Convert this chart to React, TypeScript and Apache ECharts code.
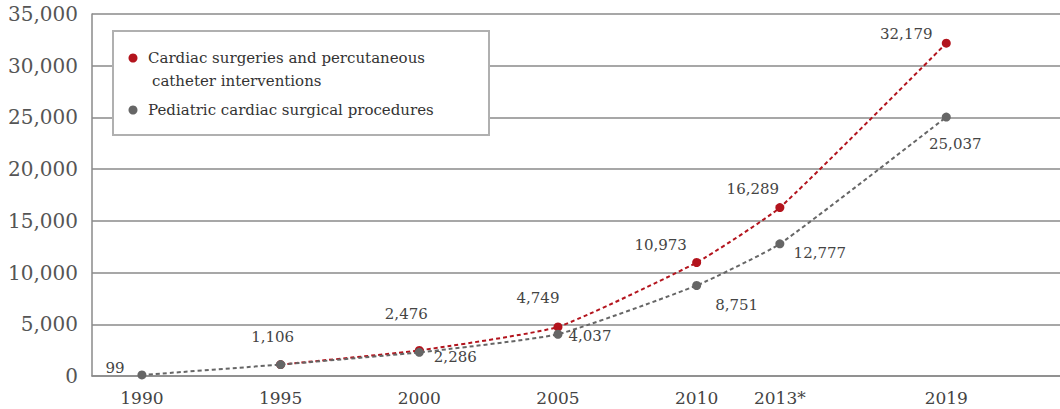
import React, { useEffect, useRef } from "react";
import * as echarts from "echarts";

// Years on the horizontal axis and the labels printed under them
const years = [1990, 1995, 2000, 2005, 2010, 2013, 2019];
const yearLabels = ["1990", "1995", "2000", "2005", "2010", "2013*", "2019"];

// Series names
const seriesNames = [
  "Cardiac surgeries and percutaneous\ncatheter interventions",
  "Pediatric cardiac surgical procedures",
];

// Values per year (null = not reported)
const cardiacValues: (number | null)[] = [null, 1106, 2476, 4749, 10973, 16289, 32179];
const pediatricValues: (number | null)[] = [99, 1106, 2286, 4037, 8751, 12777, 25037];
// Which pediatric points carry a value label
const pediatricLabelShown = [true, false, true, true, true, true, true];

// Value axis ticks
const yMax = 35000;
const yStep = 5000;

// Label placement relative to each marker
const cardiacLabelOffsets = [
  [0, 0],
  [-8, -28],
  [-13, -36],
  [-20, -29],
  [-36, -18],
  [-27, -19],
  [-40, -9],
];
const pediatricLabelOffsets = [
  [-27, -7],
  [0, 0],
  [36, 5],
  [32, 2],
  [40, 20],
  [40, 9],
  [9, 27],
];

const RED = "#b3141d";
const GREY = "#666666";
const FONT = "DejaVu Serif";

const fmt = (v: number) => v.toLocaleString("en-US");

function buildData(values: (number | null)[], offsets: number[][], shown?: boolean[]) {
  const out: any[] = [];
  values.forEach((v, i) => {
    if (v === null) return;
    out.push({
      value: [years[i], v],
      label: {
        show: shown ? shown[i] : true,
        offset: offsets[i],
      },
    });
  });
  return out;
}

export default function App() {
  const ref = useRef<HTMLDivElement>(null);

  useEffect(() => {
    if (!ref.current) return;
    const chart = echarts.init(ref.current, undefined, { renderer: "svg" });

    const lx = 113;
    const ly = 31;
    const legendFont = `15px "${FONT}"`;
    const legendGraphic: any[] = [
      {
        type: "rect",
        shape: { x: lx, y: ly, width: 376, height: 104 },
        style: { fill: "#ffffff", stroke: "#b0b0b0", lineWidth: 2 },
        z: 10,
      },
      {
        type: "circle",
        shape: { cx: lx + 20, cy: ly + 27, r: 4.5 },
        style: { fill: RED },
        z: 11,
      },
      {
        type: "text",
        x: lx + 35,
        y: ly + 27,
        style: {
          text: seriesNames[0].split("\n")[0],
          font: legendFont,
          fill: "#333",
          verticalAlign: "middle",
        },
        z: 11,
      },
      {
        type: "text",
        x: lx + 39,
        y: ly + 50,
        style: {
          text: seriesNames[0].split("\n")[1],
          font: legendFont,
          fill: "#333",
          verticalAlign: "middle",
        },
        z: 11,
      },
      {
        type: "circle",
        shape: { cx: lx + 20, cy: ly + 79, r: 4.5 },
        style: { fill: GREY },
        z: 11,
      },
      {
        type: "text",
        x: lx + 35,
        y: ly + 79,
        style: {
          text: seriesNames[1],
          font: legendFont,
          fill: "#333",
          verticalAlign: "middle",
        },
        z: 11,
      },
    ];

    const labelStyle = {
      position: "inside",
      color: "#444",
      fontFamily: FONT,
      fontSize: 15,
      formatter: (p: any) => fmt(p.value[1]),
    };

    chart.setOption({
      animation: false,
      backgroundColor: "#ffffff",
      grid: { left: 92, right: 0, top: 14, bottom: 33, outerBoundsMode: "none" },
      xAxis: {
        type: "value",
        min: 1988.2,
        max: 2023.1,
        axisLine: { show: true, lineStyle: { color: "#8a8a8a", width: 1.5 } },
        axisTick: { show: false },
        splitLine: { show: false },
        axisLabel: {
          customValues: years,
          formatter: (v: number) => {
            const i = years.indexOf(Math.round(v));
            return i >= 0 ? yearLabels[i] : "";
          },
          color: "#444",
          fontFamily: FONT,
          fontSize: 17,
          margin: 13,
        },
      },
      yAxis: {
        type: "value",
        min: 0,
        max: yMax,
        interval: yStep,
        axisLine: { show: true, lineStyle: { color: "#8a8a8a", width: 1.5 } },
        axisTick: { show: false },
        splitLine: { show: true, lineStyle: { color: "#8a8a8a", width: 1.5 } },
        axisLabel: {
          formatter: (v: number) => fmt(v),
          color: "#555",
          fontFamily: FONT,
          fontSize: 20,
          margin: 14,
        },
      },
      series: [
        {
          name: seriesNames[0],
          type: "line",
          data: buildData(cardiacValues, cardiacLabelOffsets),
          symbol: "circle",
          symbolSize: 9,
          smooth: 0.15,
          itemStyle: { color: RED },
          lineStyle: { color: RED, width: 2, type: [4, 3] },
          label: labelStyle,
          z: 2,
        },
        {
          name: seriesNames[1],
          type: "line",
          data: buildData(pediatricValues, pediatricLabelOffsets, pediatricLabelShown),
          symbol: "circle",
          symbolSize: 9,
          smooth: 0.15,
          itemStyle: { color: GREY },
          lineStyle: { color: GREY, width: 2, type: [4, 3] },
          label: labelStyle,
          z: 3,
        },
      ],
      graphic: legendGraphic,
    });

    return () => chart.dispose();
  }, []);

  return (
    <div
      ref={ref}
      style={{ position: "fixed", left: 0, top: 0, width: 1060, height: 409 }}
    />
  );
}
